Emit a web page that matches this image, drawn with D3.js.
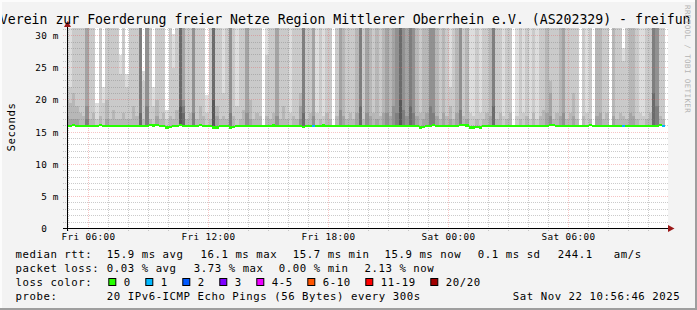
<!DOCTYPE html>
<html>
<head>
<meta charset="utf-8">
<script src="https://cdn.jsdelivr.net/npm/d3@7"></script>
<style>
  body { margin: 0; background: #f3f3f3; }
  svg { display: block; font-family: "DejaVu Sans Mono", monospace; }
</style>
</head>
<body>
<svg id="chart"></svg>
<script>
// 30h smokeping view, one column per 10 minutes starting Fri 04:50 UTC
var titleText = 'Verein zur Foerderung freier Netze Region Mittlerer Oberrhein e.V. (AS202329) - freifun';

// upper half of the sorted pings (ms), largest first; 40 = off the top of the graph
var upperPings = [
  [40,22,20,17.5], [40,22,19.5,17], [40,40,21,17], [40,40,19,17], [40,40,18], [40,40,17.5], [40,40,40,40,19,17], [40,40,17], [40,40,18], [19.5,17],
  [40,40,17.5], [22,19.5], [40,40,20,17], [40,40,17], [40,40,18.5], [40,40,17], [27,24,17], [40,40,18], [24,22,17], [40,40,17],
  [40,40,19], [40,40,17.5], [40,40,40,40,40,40,18], [24.5,23,17], [40,40,40,40,40,19], [40,40,17], [22,19], [40,40,20,17.5], [40,40,17], [40,40,18],
  [18.5,17], [40,40,17.5], [30.3,25,17], [40,40,18.5], [40,40,40,40,40,40,40,19], [40,40,40,40,20,19,18], [40,40,17], [40,40,18], [40,40,40,40,40,18], [40,40,17],
  [40,40,19], [40,40,17.5], [20.8,18], [40,40,17], [40,40,40,40,40,40,40,20], [40,40,19,17.5], [40,40,17], [40,21,17.5], [40,40,17], [40,40,40,40,40,18],
  [40,40,17.5], [40,19], [40,40,17], [40,40,18.5], [40,40,40,40,18], [40,40,20,17], [40,40,17], [40,40,18], [40,40,17.5], [],
  [40,27,17.5], [40,40,17], [40,40,18], [40,40,40,40,17.5], [40,40,17], [40,40,19], [40,40,17], [40,18], [40,40,17.5], [40,40,17],
  [40,40,21,19,17], [40,40,40,40,40,40,18], [40,40,17], [40,40,18], [40,40,40,40,17.5], [40,18], [40,40,17], [40,17.5], [40,40,18], [40,40,17],
  [], [40,40,17.5], [40,40,40,40,18.5], [40,40,40,17.5], [40,40,17], [40,40,18], [40,40,17], [40,40,40,18], [40,40,40,40,40,40,19], [40,40,17],
  [40,40,40,40,18], [40,40,40,17.5], [40,40,18], [40,40,40,17], [40,40,17.5], [40,40,40,18], [40,40,40,40,18], [40,40,40,17.5], [40,40,40,40,19], [40,40,40,40,40,18],
  [40,40,40,40,40,40,40,20], [40,40,40,40,40,18.5], [40,40,40,40,17.5], [40,40,40,40,40,40,19], [40,40,40,40,40,18], [40,40,40,17.5], [40,40,18], [40,40,40,17], [40,40,40,18], [40,40,40,40,40,19],
  [40,40,40,40,40,18], [40,40,40,17.5], [40,40,17], [40,40,40,18], [40,40,17.5], [40,22,19,17], [40,40,17], [40,40,40,18], [40,40,40,40,40,18.5], [40,40,17.5],
  [40,40,40,17], [40,18], [40,17.5], [40,40,17], [40,18], [40,40,17], [40,40,18], [40,40,40,17.5], [40,40,40,40,40,40,19], [40,40,17],
  [40,40,18], [40,17.5], [40,40,17], [40,40,18], [], [40,17.5], [40,40,17], [40,18], [40,40,17.5], [40,17],
  [40,40,18], [40,17], [40,40,17.5], [40,40,18.5], [40,40,40,18], [40,40,23,21,17.5], [40,40,17], [40,40,18], [40,40,40,17.5], [40,40,40,40,18],
  [40,40,17], [40,40,18], [40,40,21,17.5], [40,40,17], [], [40,40,17.5], [40,18], [40,40,17], [], [40,40,40,17.5],
  [40,40,40,18], [40,40,17], [40,40,18], [], [40,40,40,17.5], [40,40,17], [40,40,18], [28,26,17.5], [40,40,17], [40,40,40,18],
  [40,40,40,17.5], [40,40,17], [40,18], [40,17.5], [40,40,17], [40,40,18], [40,40,40,40,40,40,21], [40,40,40,40,40,19], [40,40,17.5], [40,40,17]
];

var medianRtt = [
  15.9,15.9,16.1,15.9,15.9,15.9,15.9,15.9,15.9,15.9,16.1,15.9,15.9,15.9,15.9,15.9,15.9,15.9,15.9,15.9,
  15.9,15.9,15.9,15.9,15.9,16.1,16.0,16.1,15.9,15.9,15.7,15.8,15.9,15.9,16.1,15.9,15.9,15.9,15.9,15.9,
  16.1,15.9,15.9,15.9,15.7,15.7,15.9,15.9,15.9,15.7,15.8,15.9,15.9,15.9,15.9,15.9,15.9,15.9,15.9,15.9,
  15.9,15.9,16.0,15.9,15.9,15.9,15.9,15.9,15.9,15.9,15.9,15.8,15.9,15.9,15.9,15.9,15.9,16.0,15.9,15.9,
  15.9,15.9,15.9,15.9,15.9,15.9,15.9,15.9,15.9,15.9,15.9,15.9,15.9,15.9,15.9,15.9,15.9,15.9,15.9,15.9,
  15.9,15.9,15.9,15.9,15.9,15.9,15.7,15.8,15.9,15.9,16.1,15.9,15.9,15.9,15.9,15.9,15.9,15.9,16.1,16.1,
  16.0,15.7,15.7,15.8,15.7,15.9,15.9,15.9,15.9,15.9,15.9,15.9,15.9,15.9,15.9,15.9,15.9,15.9,15.9,15.9,
  15.9,15.9,15.9,15.9,15.9,16.1,16.1,15.9,15.9,15.9,15.9,15.9,15.9,15.9,15.9,15.9,15.9,16.1,15.9,15.9,
  15.9,15.9,15.9,15.9,15.9,15.9,15.9,15.9,15.9,15.9,15.9,15.9,15.9,15.9,15.9,15.9,15.9,15.9,16.1,15.9
];

var lossCount = medianRtt.map(function() { return 0; });
lossCount[74] = 1; lossCount[167] = 1; lossCount[179] = 1;

var lossLabels = ['0', '1', '2', '3', '4-5', '6-10', '11-19', '20/20'];
var lossColors = ['#26ff00', '#00b8ff', '#0059ff', '#7e00ff', '#ee00ff', '#ff5500', '#ff0000', '#a10000'];

var statsRtt = ['15.9 ms avg', '16.1 ms max', '15.7 ms min', '15.9 ms now', '0.1 ms sd', '244.1', 'am/s'];
var statsLoss = ['0.03 % avg', '3.73 % max', '0.00 % min', '2.13 % now'];
var probeText = '20 IPv6-ICMP Echo Pings (56 Bytes) every 300s';
var stampText = 'Sat Nov 22 10:56:46 2025';

var yTicks = [0, 5, 10, 15, 20, 25, 30];

var width = 697, height = 310;
var start = new Date(Date.UTC(2025, 10, 21, 4, 56, 46));
var end = new Date(Date.UTC(2025, 10, 22, 10, 56, 46));
var colStart = Date.UTC(2025, 10, 21, 4, 50);
var step = 10 * 60000;

var svg = d3.select('#chart').attr('width', width).attr('height', height);

svg.append('rect').attr('width', width).attr('height', height).attr('fill', '#f3f3f3');

var x = d3.scaleUtc().domain([start, end]).range([67.5, 667.5]);
var y = d3.scaleLinear().domain([0, 31.1]).range([228.5, 28.5]);

svg.append('rect').attr('x', 67).attr('y', 28).attr('width', 601).attr('height', 201).attr('fill', '#fff');

svg.append('clipPath').attr('id', 'plotclip')
  .append('rect').attr('x', 67).attr('y', 28).attr('width', 601).attr('height', 200);

function gray(k) {
  var v = Math.floor(190 / 10 * (10 - k)) + 50;
  return d3.rgb(v, v, v).toString();
}

var cols = upperPings.map(function(p, i) {
  return {t0: new Date(colStart + i * step), t1: new Date(colStart + (i + 1) * step),
          up: p, med: medianRtt[i], loss: lossCount[i]};
});

var smoke = svg.append('g').attr('clip-path', 'url(#plotclip)').attr('shape-rendering', 'crispEdges');
cols.forEach(function(c) {
  c.up.forEach(function(top, k) {
    smoke.append('rect')
      .attr('x', x(c.t0)).attr('width', x(c.t1) - x(c.t0))
      .attr('y', y(top)).attr('height', y(c.med - 0.15) - y(top))
      .attr('fill', gray(k + 1));
  });
});

// grid
var minorCol = 'rgba(130,130,130,0.42)', majorCol = 'rgba(230,100,100,0.38)';
var grid = svg.append('g').attr('shape-rendering', 'crispEdges').attr('stroke-dasharray', '1,1');
d3.range(1, 32).forEach(function(v) {
  if (v > 31.1) return;
  var yy = Math.floor(y(v)) + 0.5;
  grid.append('line').attr('x1', 63).attr('x2', 668).attr('y1', yy).attr('y2', yy)
    .attr('stroke', v % 5 === 0 ? majorCol : minorCol);
});
d3.utcHour.every(1).range(start, end).forEach(function(t) {
  var xx = Math.floor(x(t)) + 0.5;
  grid.append('line').attr('x1', xx).attr('x2', xx).attr('y1', 28).attr('y2', 231)
    .attr('stroke', t.getUTCHours() % 6 === 0 ? majorCol : minorCol);
});

// median line coloured by loss
var med = svg.append('g').attr('clip-path', 'url(#plotclip)').attr('shape-rendering', 'crispEdges');
cols.forEach(function(c) {
  var li = c.loss === 0 ? 0 : c.loss <= 3 ? c.loss : c.loss <= 5 ? 4 : c.loss <= 10 ? 5 : c.loss < 20 ? 6 : 7;
  med.append('rect')
    .attr('x', x(c.t0)).attr('width', x(c.t1) - x(c.t0))
    .attr('y', y(c.med) - 1.2).attr('height', 2.4)
    .attr('fill', lossColors[li]);
});

// axes
svg.append('line').attr('x1', 63).attr('x2', 670).attr('y1', 228.5).attr('y2', 228.5).attr('stroke', '#000');
svg.append('line').attr('x1', 67.5).attr('x2', 67.5).attr('y1', 231).attr('y2', 26).attr('stroke', '#000');
svg.append('path').attr('d', 'M668,225L674.5,228.5L668,232Z').attr('fill', '#9a1818');
svg.append('path').attr('d', 'M64,27L67.5,21L71,27Z').attr('fill', '#9a1818');

var axisFont = {size: '9.33px', ls: '0.38px'};
var fmt = d3.utcFormat('%a %H:%M');
svg.append('g').selectAll('text')
  .data(d3.utcHour.every(6).range(start, end)).enter()
  .append('text')
    .attr('x', function(d) { return x(d); })
    .attr('y', 240)
    .attr('text-anchor', 'middle')
    .attr('font-size', axisFont.size).attr('letter-spacing', axisFont.ls)
    .text(function(d) { return fmt(d); });

var yl = svg.append('g').attr('font-size', axisFont.size).attr('letter-spacing', axisFont.ls);
yTicks.forEach(function(v) {
  yl.append('text').attr('x', 47.3).attr('y', Math.floor(y(v)) + 3.8).attr('text-anchor', 'end').text(v);
  if (v > 0) yl.append('text').attr('x', 52.8).attr('y', Math.floor(y(v)) + 3.8).text('m');
});

// title, axis title, watermark
svg.append('text').attr('x', -0.2).attr('y', 24).attr('font-size', '13.2px').text(titleText);

svg.append('text').attr('transform', 'translate(14.5,127) rotate(-90)')
  .attr('text-anchor', 'middle').attr('font-size', '10.67px').attr('letter-spacing', '0.56px')
  .text('Seconds');

svg.append('text').attr('transform', 'translate(685,5) rotate(90)')
  .attr('font-size', '7.5px').attr('letter-spacing', '0.4px').attr('fill', '#b4b4b4')
  .text('RRDTOOL / TOBI OETIKER');

// legend
var leg = svg.append('g').attr('font-size', '10.67px').attr('letter-spacing', '0.56px');
var rowY = [257.7, 271.7, 285.7, 300];
leg.append('text').attr('x', 15.5).attr('y', rowY[0]).text('median rtt:');
[106.8, 200.5, 292.8, 384.5, 477.8, 557.8, 613.8].forEach(function(px, i) {
  leg.append('text').attr('x', px).attr('y', rowY[0]).text(statsRtt[i]);
});
leg.append('text').attr('x', 15.5).attr('y', rowY[1]).text('packet loss:');
[106.8, 193.8, 278.8, 364.5].forEach(function(px, i) {
  leg.append('text').attr('x', px).attr('y', rowY[1]).text(statsLoss[i]);
});
leg.append('text').attr('x', 15.5).attr('y', rowY[2]).text('loss color:');
var bx = 108.3;
lossLabels.forEach(function(l, i) {
  leg.append('rect').attr('x', bx + 0.5).attr('y', 278.5).attr('width', 7).attr('height', 7)
    .attr('fill', lossColors[i]).attr('stroke', '#000');
  leg.append('text').attr('x', bx + 15.5).attr('y', rowY[2]).text(l);
  bx += 16 + 7 * l.length + 14;
});
leg.append('text').attr('x', 15.5).attr('y', rowY[3]).text('probe:');
leg.append('text').attr('x', 106.8).attr('y', rowY[3]).text(probeText);
leg.append('text').attr('x', 512.8).attr('y', rowY[3]).text(stampText);

// frame
svg.append('rect').attr('x', 0).attr('y', 0).attr('width', width).attr('height', 2).attr('fill', '#fcfcfc');
svg.append('rect').attr('x', 0).attr('y', 0).attr('width', 2).attr('height', height).attr('fill', '#fcfcfc');
svg.append('rect').attr('x', 0).attr('y', height - 2).attr('width', width).attr('height', 2).attr('fill', '#9e9e9e');
svg.append('rect').attr('x', width - 2).attr('y', 0).attr('width', 2).attr('height', height).attr('fill', '#9e9e9e');
</script>
</body>
</html>
